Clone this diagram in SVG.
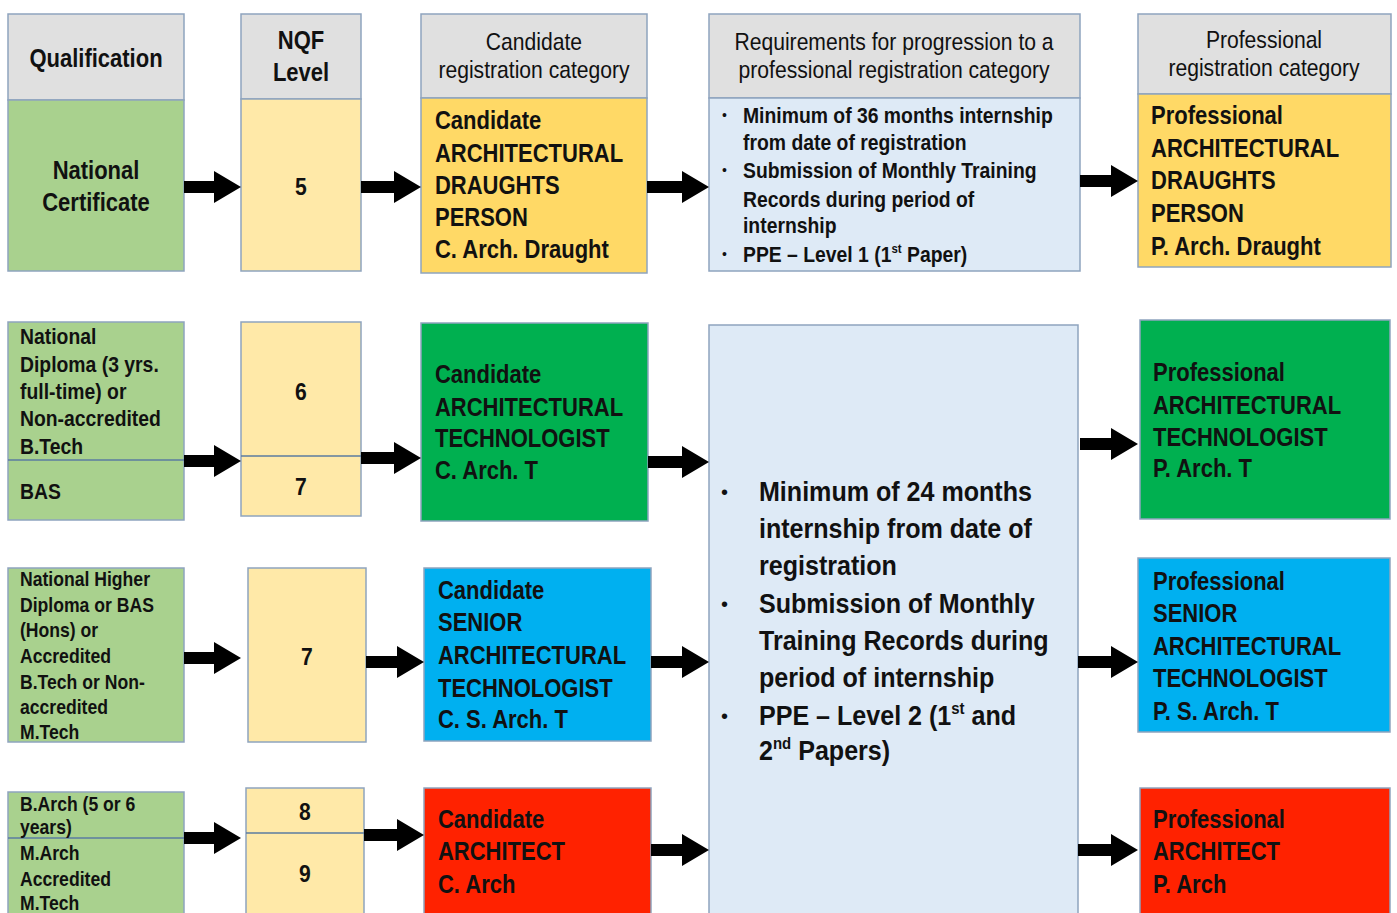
<svg xmlns="http://www.w3.org/2000/svg" width="1397" height="913" viewBox="0 0 1397 913">
<style>
rect{stroke:#8EA4BE;stroke-width:1.5}
.hd{fill:#E0E0E0}
.q{fill:#A9D18E}
.nq{fill:#FFE9A8}
.dr{fill:#FFD966}
.rq{fill:#DEEAF6}
.gr{fill:#00B050}
.bl{fill:#00B0F0}
.rd{fill:#FF2200}
.sep{stroke:#5B7BA0;stroke-width:1.5}
text{font-family:"Liberation Sans",Arial,sans-serif;fill:#111}
.h{font-size:24px;text-anchor:middle;transform:scaleX(0.88);transform-box:fill-box;transform-origin:50% 50%}
.hb{font-size:25px;font-weight:bold}
.l{font-weight:bold;transform:scaleX(0.88);transform-box:fill-box;transform-origin:0 50%}
.m{font-weight:bold;text-anchor:middle;transform:scaleX(0.88);transform-box:fill-box;transform-origin:50% 50%}
.arr{fill:#000}
</style>

<g id="hdr-qual"><rect class="hd" x="8" y="14" width="176" height="86"/><text class="h hb" x="96" y="67">Qualification</text></g>
<g id="hdr-nqf"><rect class="hd" x="241" y="14" width="120" height="85"/><text class="h hb" x="301" y="49">NQF</text><text class="h hb" x="301" y="81">Level</text></g>
<g id="hdr-cand"><rect class="hd" x="421" y="14" width="226" height="84"/><text class="h" x="534" y="50">Candidate</text><text class="h" x="534" y="78">registration category</text></g>
<g id="hdr-req"><rect class="hd" x="709" y="14" width="371" height="84"/><text class="h" x="894" y="50">Requirements for progression to a</text><text class="h" x="894" y="78">professional registration category</text></g>
<g id="hdr-prof"><rect class="hd" x="1138" y="14" width="253" height="80"/><text class="h" x="1264" y="48">Professional</text><text class="h" x="1264" y="76">registration category</text></g>

<g id="q1"><rect class="q" x="8" y="100" width="176" height="171"/><text class="m" font-size="25" x="96" y="179">National</text><text class="m" font-size="25" x="96" y="211">Certificate</text></g>
<g id="n1"><rect class="nq" x="241" y="99" width="120" height="172"/><text class="m" font-size="24" x="301" y="195">5</text></g>
<g id="c1"><rect class="dr" x="421" y="98" width="226" height="175"/><text class="l" font-size="25" x="435" y="129">Candidate<tspan x="435" y="162">ARCHITECTURAL</tspan><tspan x="435" y="194">DRAUGHTS</tspan><tspan x="435" y="226">PERSON</tspan><tspan x="435" y="258">C. Arch. Draught</tspan></text></g>
<g id="r1"><rect class="rq" x="709" y="98" width="371" height="173"/>
<text class="l" font-size="22" x="743" y="123">Minimum of 36 months internship<tspan x="743" y="150">from date of registration</tspan><tspan x="743" y="178">Submission of Monthly Training</tspan><tspan x="743" y="207">Records during period of</tspan><tspan x="743" y="233">internship</tspan><tspan x="743" y="262">PPE – Level 1 (1<tspan dy="-9" font-size="13">st</tspan><tspan dy="9"> Paper)</tspan></tspan></text>
<text font-size="14" x="722" y="120">•</text><text font-size="14" x="722" y="175">•</text><text font-size="14" x="722" y="259">•</text></g>
<g id="p1"><rect class="dr" x="1138" y="94" width="253" height="173"/><text class="l" font-size="25" x="1151" y="124">Professional<tspan x="1151" y="157">ARCHITECTURAL</tspan><tspan x="1151" y="189">DRAUGHTS</tspan><tspan x="1151" y="222">PERSON</tspan><tspan x="1151" y="255">P. Arch. Draught</tspan></text></g>

<g id="q2"><rect class="q" x="8" y="322" width="176" height="198"/><line class="sep" x1="8" y1="460" x2="184" y2="460"/><text class="l" font-size="22" x="20" y="344">National<tspan x="20" y="372">Diploma (3 yrs.</tspan><tspan x="20" y="399">full-time) or</tspan><tspan x="20" y="426">Non-accredited</tspan><tspan x="20" y="454">B.Tech</tspan><tspan x="20" y="499">BAS</tspan></text></g>
<g id="n2"><rect class="nq" x="241" y="322" width="120" height="194"/><line class="sep" x1="241" y1="456" x2="361" y2="456"/><text class="m" font-size="24" x="301" y="400">6</text><text class="m" font-size="24" x="301" y="495">7</text></g>
<g id="c2"><rect class="gr" x="421" y="323" width="227" height="198"/><text class="l" font-size="25" x="435" y="383">Candidate<tspan x="435" y="416">ARCHITECTURAL</tspan><tspan x="435" y="447">TECHNOLOGIST</tspan><tspan x="435" y="479">C. Arch.  T</tspan></text></g>

<g id="r2"><rect class="rq" x="709" y="325" width="369" height="600"/>
<text class="l" font-size="28.5" x="759" y="501">Minimum of 24 months<tspan x="759" y="538">internship from date of</tspan><tspan x="759" y="575">registration</tspan><tspan x="759" y="613">Submission of Monthly</tspan><tspan x="759" y="650">Training Records during</tspan><tspan x="759" y="687">period of internship</tspan><tspan x="759" y="725">PPE – Level 2 (1<tspan dy="-11" font-size="17">st</tspan><tspan dy="11"> and</tspan></tspan><tspan x="759" y="760">2<tspan dy="-11" font-size="17">nd</tspan><tspan dy="11"> Papers)</tspan></tspan></text>
<text font-size="20" x="721" y="499">•</text><text font-size="20" x="721" y="611">•</text><text font-size="20" x="721" y="723">•</text></g>

<g id="p2"><rect class="gr" x="1140" y="320" width="250" height="199"/><text class="l" font-size="25" x="1153" y="381">Professional<tspan x="1153" y="414">ARCHITECTURAL</tspan><tspan x="1153" y="446">TECHNOLOGIST</tspan><tspan x="1153" y="477">P. Arch.  T</tspan></text></g>

<g id="q3"><rect class="q" x="8" y="568" width="176" height="174"/><text class="l" font-size="20" x="20" y="586">National Higher<tspan x="20" y="612">Diploma or BAS</tspan><tspan x="20" y="637">(Hons) or</tspan><tspan x="20" y="663">Accredited</tspan><tspan x="20" y="689">B.Tech or Non-</tspan><tspan x="20" y="714">accredited</tspan><tspan x="20" y="739">M.Tech</tspan></text></g>
<g id="n3"><rect class="nq" x="248" y="568" width="118" height="174"/><text class="m" font-size="24" x="307" y="665">7</text></g>
<g id="c3"><rect class="bl" x="424" y="568" width="227" height="173"/><text class="l" font-size="25" x="438" y="599">Candidate<tspan x="438" y="631">SENIOR</tspan><tspan x="438" y="664">ARCHITECTURAL</tspan><tspan x="438" y="697">TECHNOLOGIST</tspan><tspan x="438" y="728">C. S. Arch. T</tspan></text></g>
<g id="p3"><rect class="bl" x="1138" y="558" width="252" height="174"/><text class="l" font-size="25" x="1153" y="590">Professional<tspan x="1153" y="622">SENIOR</tspan><tspan x="1153" y="655">ARCHITECTURAL</tspan><tspan x="1153" y="687">TECHNOLOGIST</tspan><tspan x="1153" y="720">P. S. Arch. T</tspan></text></g>

<g id="q4"><rect class="q" x="8" y="792" width="176" height="130"/><line class="sep" x1="8" y1="838" x2="184" y2="838"/><text class="l" font-size="20" x="20" y="811">B.Arch (5 or 6<tspan x="20" y="834">years)</tspan><tspan x="20" y="860">M.Arch</tspan><tspan x="20" y="886">Accredited</tspan><tspan x="20" y="910">M.Tech</tspan></text></g>
<g id="n4"><rect class="nq" x="246" y="788" width="118" height="130"/><line class="sep" x1="246" y1="833" x2="364" y2="833"/><text class="m" font-size="24" x="305" y="820">8</text><text class="m" font-size="24" x="305" y="882">9</text></g>
<g id="c4"><rect class="rd" x="424" y="788" width="227" height="130"/><text class="l" font-size="25" x="438" y="828">Candidate<tspan x="438" y="860">ARCHITECT</tspan><tspan x="438" y="893">C. Arch</tspan></text></g>
<g id="p4"><rect class="rd" x="1140" y="788" width="250" height="130"/><text class="l" font-size="25" x="1153" y="828">Professional<tspan x="1153" y="860">ARCHITECT</tspan><tspan x="1153" y="893">P. Arch</tspan></text></g>

<g id="connectors" class="arr">
<polygon points="184,181 214,181 214,171 241,187 214,203 214,193 184,193"/>
<polygon points="361,181 394,181 394,171 421,187 394,203 394,193 361,193"/>
<polygon points="647,181 682,181 682,171 709,187 682,203 682,193 647,193"/>
<polygon points="1080,175 1111,175 1111,165 1138,181 1111,197 1111,187 1080,187"/>

<polygon points="184,455 214,455 214,445 241,461 214,477 214,467 184,467"/>
<polygon points="361,452 394,452 394,442 421,458 394,474 394,464 361,464"/>
<polygon points="648,456 682,456 682,446 709,462 682,478 682,468 648,468"/>
<polygon points="1080,438 1111,438 1111,428 1138,444 1111,460 1111,450 1080,450"/>

<polygon points="184,652 214,652 214,642 241,658 214,674 214,664 184,664"/>
<polygon points="366,656 397,656 397,646 424,662 397,678 397,668 366,668"/>
<polygon points="651,656 682,656 682,646 709,662 682,678 682,668 651,668"/>
<polygon points="1078,656 1111,656 1111,646 1138,662 1111,678 1111,668 1078,668"/>

<polygon points="184,832 214,832 214,822 241,838 214,854 214,844 184,844"/>
<polygon points="364,829 397,829 397,819 424,835 397,851 397,841 364,841"/>
<polygon points="651,844 682,844 682,834 709,850 682,866 682,856 651,856"/>
<polygon points="1078,844 1111,844 1111,834 1138,850 1111,866 1111,856 1078,856"/>
</g>
</svg>
